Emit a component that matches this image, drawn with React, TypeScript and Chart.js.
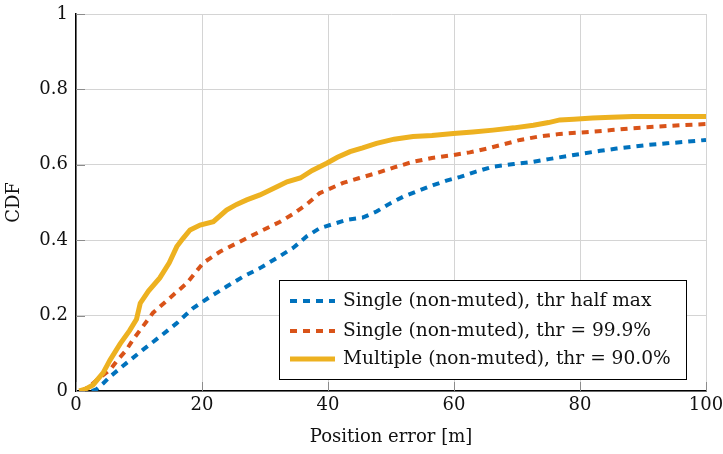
import React, { useEffect, useRef } from "react";
import { Chart, registerables } from "chart.js";

Chart.register(...registerables);

const xTicks = [0, 20, 40, 60, 80, 100];
const yTicks = [0, 0.2, 0.4, 0.6, 0.8, 1];

const seriesLabels = [
  "Single (non-muted), thr half max",
  "Single (non-muted), thr = 99.9%",
  "Multiple (non-muted), thr = 90.0%",
];

const blueX = [2.5, 3.3, 4.3, 5.4, 8, 10.6, 13.3, 16, 18.6, 21.3, 23.9, 26.5, 29.2, 31.9, 34.5, 36.6, 38.7, 43, 45.5, 47.7, 49.8, 51.9, 54.5, 56.7, 58.8, 61, 63.5, 66.2, 69.5, 72.6, 75, 77.9, 80.5, 83.2, 85.8, 88.4, 91, 93.8, 96.8, 100];
const blueY = [0, 0.005, 0.02, 0.038, 0.074, 0.109, 0.144, 0.18, 0.22, 0.25, 0.277, 0.303, 0.326, 0.353, 0.38, 0.41, 0.432, 0.454, 0.46, 0.476, 0.497, 0.515, 0.532, 0.546, 0.558, 0.568, 0.582, 0.595, 0.602, 0.608, 0.615, 0.623, 0.63, 0.637, 0.643, 0.648, 0.653, 0.657, 0.661, 0.666];

const orangeX = [0.8, 2, 3.3, 5.4, 6.5, 8, 9, 10.2, 12.2, 14.9, 17.6, 20.2, 22.9, 26, 29.2, 32.4, 34.5, 36.6, 38.7, 42.4, 45, 47.7, 50.5, 53.5, 56.5, 59.9, 62.5, 65.2, 68, 70.5, 73.5, 76.8, 79.5, 82, 85, 88.4, 92, 96, 100];
const orangeY = [0, 0.01, 0.029, 0.056, 0.08, 0.109, 0.135, 0.162, 0.207, 0.247, 0.286, 0.34, 0.37, 0.396, 0.423, 0.449, 0.47, 0.495, 0.525, 0.552, 0.565, 0.578, 0.593, 0.608, 0.618, 0.626, 0.633, 0.643, 0.655, 0.666, 0.675, 0.682, 0.685, 0.688, 0.692, 0.697, 0.701, 0.705, 0.708];

const yellowX = [0.5, 1.5, 2.7, 4.3, 5.4, 7, 8.5, 9.6, 10.2, 11.5, 13.3, 14.8, 16, 17, 18.1, 19.7, 21.8, 23.9, 25.5, 27.1, 29.2, 31.9, 33.5, 35.6, 37.5, 39.8, 41.5, 43.5, 45.5, 47.7, 50.5, 53.5, 56.5, 59.9, 63, 66.2, 69.5, 72.6, 75, 76.8, 79, 82, 85, 88.4, 92, 96, 100];
const yellowY = [0, 0.005, 0.016, 0.048, 0.082, 0.125, 0.16, 0.19, 0.233, 0.265, 0.3, 0.34, 0.383, 0.405, 0.427, 0.44, 0.449, 0.48, 0.495, 0.507, 0.52, 0.542, 0.555, 0.565, 0.585, 0.604, 0.62, 0.635, 0.645, 0.657, 0.668, 0.675, 0.678, 0.683, 0.687, 0.692, 0.698, 0.705, 0.712, 0.719, 0.721, 0.724, 0.726, 0.728, 0.728, 0.728, 0.728];

const colors = ["#0072BD", "#D95319", "#EDB120"];
const FONT = "'DejaVu Serif', 'Liberation Serif', serif";

const pts = (xs: number[], ys: number[]) => xs.map((x, i) => ({ x, y: ys[i] }));

const innerTicks = {
  id: "innerTicks",
  beforeDatasetsDraw(chart: any) {
    const { ctx, chartArea, scales } = chart;
    ctx.save();
    ctx.strokeStyle = "#8c8c8c";
    ctx.lineWidth = 1;
    xTicks.forEach((v) => {
      const px = Math.round(scales.x.getPixelForValue(v)) + 0.5;
      ctx.beginPath();
      ctx.moveTo(px, chartArea.bottom);
      ctx.lineTo(px, chartArea.bottom - 9);
      ctx.stroke();
    });
    yTicks.forEach((v) => {
      const py = Math.round(scales.y.getPixelForValue(v)) + 0.5;
      ctx.beginPath();
      ctx.moveTo(chartArea.left, py);
      ctx.lineTo(chartArea.left + 9, py);
      ctx.stroke();
    });
    ctx.restore();
  },
};

const boxLegend = {
  id: "boxLegend",
  afterDraw(chart: any) {
    const { ctx, chartArea } = chart;
    const w = 407;
    const h = 99;
    const x0 = chartArea.right - 20 - w;
    const y0 = chartArea.bottom - 12 - h;
    ctx.save();
    ctx.fillStyle = "#ffffff";
    ctx.fillRect(x0, y0, w, h);
    ctx.strokeStyle = "#000";
    ctx.lineWidth = 1;
    ctx.strokeRect(Math.round(x0) + 0.5, Math.round(y0) + 0.5, w, h);
    ctx.font = `18.6px ${FONT}`;
    ctx.textBaseline = "middle";
    ctx.textAlign = "left";
    const rows = [21, 51, 79];
    seriesLabels.forEach((lab, i) => {
      const cy = y0 + rows[i];
      ctx.strokeStyle = colors[i];
      ctx.lineWidth = i === 2 ? 5 : 4;
      ctx.setLineDash(i === 2 ? [] : [7, 6]);
      ctx.beginPath();
      ctx.moveTo(x0 + 11, cy);
      ctx.lineTo(x0 + 56, cy);
      ctx.stroke();
      ctx.setLineDash([]);
      ctx.fillStyle = "#111";
      ctx.fillText(lab, x0 + 64, cy);
    });
    ctx.restore();
  },
};

export default function App() {
  const ref = useRef<HTMLCanvasElement>(null);
  useEffect(() => {
    if (!ref.current) return;
    const chart = new Chart(ref.current, {
      type: "line",
      data: {
        datasets: [
          { label: seriesLabels[0], data: pts(blueX, blueY), borderColor: colors[0], borderWidth: 4, borderDash: [7, 6], pointRadius: 0, order: 2, tension: 0 },
          { label: seriesLabels[1], data: pts(orangeX, orangeY), borderColor: colors[1], borderWidth: 4, borderDash: [7, 6], pointRadius: 0, order: 1, tension: 0 },
          { label: seriesLabels[2], data: pts(yellowX, yellowY), borderColor: colors[2], borderWidth: 5, pointRadius: 0, order: 0, tension: 0 },
        ],
      },
      options: {
        animation: false,
        responsive: false,
        maintainAspectRatio: false,
        layout: { padding: { left: 0, right: 17, top: 14, bottom: 0 } },
        plugins: { legend: { display: false }, tooltip: { enabled: false } },
        scales: {
          x: {
            type: "linear",
            min: 0,
            max: 100,
            afterBuildTicks: (s: any) => { s.ticks = xTicks.map((v) => ({ value: v })); },
            afterFit: (s: any) => { s.height = 63; s.paddingLeft = 0; s.paddingRight = 0; },
            ticks: { color: "#111", font: { family: FONT, size: 18 }, padding: 4, maxRotation: 0, callback: (v: any) => String(v) },
            grid: { color: "#d4d4d4", drawTicks: false, lineWidth: 1 },
            border: { color: "#000", width: 1.5 },
            title: { display: true, text: "Position error [m]", color: "#111", font: { family: FONT, size: 18 }, padding: { top: 0, bottom: 6 } },
          },
          y: {
            type: "linear",
            min: 0,
            max: 1,
            afterBuildTicks: (s: any) => { s.ticks = yTicks.map((v) => ({ value: v })); },
            afterFit: (s: any) => { s.width = 76; s.paddingTop = 0; s.paddingBottom = 0; },
            ticks: { color: "#111", font: { family: FONT, size: 18 }, padding: 8, callback: (v: any) => String(Number(Number(v).toFixed(1))) },
            grid: { color: "#d4d4d4", drawTicks: false, lineWidth: 1 },
            border: { color: "#000", width: 1.5 },
            title: { display: true, text: "CDF", color: "#111", font: { family: FONT, size: 18 }, padding: { top: 4, bottom: 0 } },
          },
        },
      },
      plugins: [innerTicks, boxLegend],
    } as any);
    return () => chart.destroy();
  }, []);
  return (
    <div style={{ position: "absolute", left: 0, top: 0, width: 723, height: 454, background: "#fff" }}>
      <canvas ref={ref} width={723} height={454} style={{ display: "block", width: 723, height: 454 }} />
    </div>
  );
}
